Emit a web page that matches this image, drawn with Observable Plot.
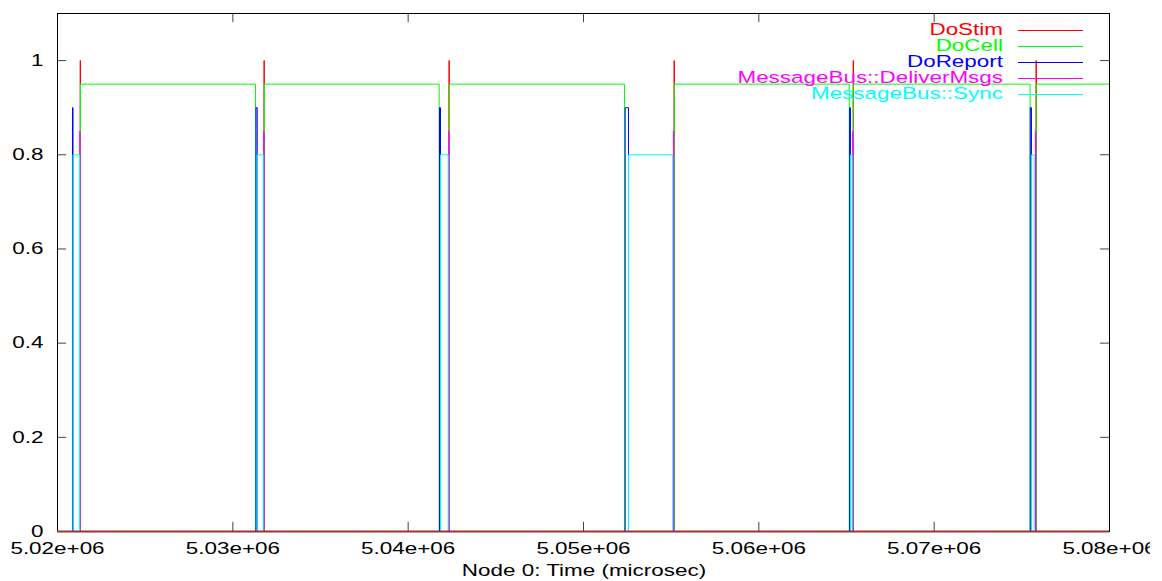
<!DOCTYPE html>
<html><head><meta charset="utf-8">
<script src="https://cdn.jsdelivr.net/npm/d3@7"></script>
<script src="https://cdn.jsdelivr.net/npm/@observablehq/plot@0.6"></script>
<style>
html,body{margin:0;padding:0;background:#fff;}
#chart{width:1150px;height:581px;overflow:hidden;}
#chart svg{max-width:none !important;width:1162px;height:581px;}
</style></head><body><div id="chart"></div>
<script>
// ---- data ----
const seriesNames = ["DoStim", "DoCell", "DoReport", "MessageBus::DeliverMsgs", "MessageBus::Sync"];
const seriesLevels = [1, 0.95, 0.9, 0.85, 0.8];
const seriesColors = ["#ff0000", "#00ff00", "#0000ff", "#ff00ff", "#00ffff"];
const timeRange = [5020000, 5080000];

const doStimOn      = [5021292, 5031777, 5042327, 5055165, 5065379, 5075810];
const doStimOff     = [5021312, 5031797, 5042347, 5055185, 5065399, 5075830];
const doCellOn      = [5021312, 5031805, 5042356, 5055180, 5065385, 5075820];
const doCellOff     = [5031292, 5041768, 5052336, 5065157, 5075473];
const doReportOn    = [5020855, 5031321, 5041786, 5052376, 5065180, 5075480];
const doReportOff   = [5020884, 5031390, 5041843, 5052564, 5065225, 5075548];
const deliverMsgsOn = [5021270, 5031765, 5042316, 5055130, 5065356, 5075776];
const deliverMsgsOff= [5021290, 5031785, 5042336, 5055150, 5065376, 5075796];
const syncOn        = [5020884, 5031390, 5041843, 5052564, 5065225, 5075548];
const syncOff       = [5021255, 5031732, 5042282, 5055090, 5065322, 5075702];

const xTicks = [5020000, 5030000, 5040000, 5050000, 5060000, 5070000, 5080000];
const yTicks = [0, 0.2, 0.4, 0.6, 0.8, 1];
const xLabel = "Node 0: Time (microsec)";

// ---- build step series ----
function buildSteps(name, level, ons, offs) {
  const ev = [];
  ons.forEach(t => ev.push({t, v: level}));
  offs.forEach(t => ev.push({t, v: 0}));
  ev.sort((a, b) => a.t - b.t);
  const pts = [{name, t: timeRange[0], v: 0}];
  ev.forEach(e => pts.push({name, t: e.t, v: e.v}));
  pts.push({name, t: timeRange[1], v: pts[pts.length - 1].v});
  return pts;
}
const allOns = [doStimOn, doCellOn, doReportOn, deliverMsgsOn, syncOn];
const allOffs = [doStimOff, doCellOff, doReportOff, deliverMsgsOff, syncOff];
const series = seriesNames.map((n, i) => buildSteps(n, seriesLevels[i], allOns[i], allOffs[i]));

const fmtX = d => d.toExponential(2).replace(/e([+-])(\d)$/, "e$10$2");
const fmtY = d => String(+d.toFixed(1));

const W = 1162, H = 581;
const tickLenY = 0.0195, tickLenX = 520;
const FONT = "'Liberation Sans', Arial, sans-serif";

const marks = [];
marks.push(
  Plot.ruleX(xTicks, {x: d => d, y1: 0, y2: tickLenY, stroke: "#444"}),
  Plot.ruleX(xTicks, {x: d => d, y1: 1.1 - tickLenY, y2: 1.1, stroke: "#444"}),
  Plot.ruleY(yTicks, {y: d => d, x1: timeRange[0], x2: timeRange[0] + tickLenX, stroke: "#444"}),
  Plot.ruleY(yTicks, {y: d => d, x1: timeRange[1] - tickLenX, x2: timeRange[1], stroke: "#444"}),
  Plot.frame({stroke: "black"})
);
series.forEach((s, i) => {
  marks.push(Plot.line(s, {x: "t", y: "v", curve: "step-after", stroke: seriesColors[i], strokeWidth: 1}));
});
marks.push(
  Plot.ruleY([0], {stroke: "#a0302c", strokeWidth: 2, clip: false}),
  Plot.axisX(xTicks, {tickSize: 0, tickPadding: 11, tickFormat: fmtX, label: null, fill: "black"}),
  Plot.axisY(yTicks, {tickSize: 0, tickPadding: 14, tickFormat: fmtY, label: null, fill: "black"})
);

const chart = Plot.plot({
  width: W, height: H,
  marginLeft: 57, marginRight: 53, marginTop: 13, marginBottom: 50,
  x: {domain: timeRange},
  y: {domain: [0, 1.1]},
  clip: true,
  style: {fontFamily: FONT, fontSize: "16.5px", background: "white", color: "black", maxWidth: "none"},
  marks
});
document.getElementById("chart").appendChild(chart);

// legend & axis title
const svg = d3.select(chart);
const lg = svg.append("g").attr("font-family", FONT).attr("font-size", "16.5px");
seriesNames.forEach((n, i) => {
  const base = 34.7 + 16 * i;
  lg.append("text").attr("x", 1003).attr("y", base).attr("text-anchor", "end")
    .attr("fill", seriesColors[i]).style("fill", seriesColors[i]).text(n);
  const ly = Math.round(base - 5.2) + 0.5;
  lg.append("path").attr("d", `M1018,${ly}H1083`)
    .attr("fill", "none").style("fill", "none")
    .attr("stroke", seriesColors[i]).style("stroke", seriesColors[i]).style("stroke-width", "1px");
});
svg.append("text").attr("x", 584).attr("y", 576).attr("text-anchor", "middle")
  .attr("font-family", FONT).attr("font-size", "16.5px").attr("fill", "black").text(xLabel);

// horizontal stretch of the glyphs (reference text is wide)
const SX = 1.36;
svg.selectAll("text").each(function() {
  const el = this;
  const tr = el.getAttribute("transform");
  if (tr) {
    el.setAttribute("transform", tr + ` scale(${SX},1)`);
  } else {
    const x = +el.getAttribute("x") || 0, y = +el.getAttribute("y") || 0;
    el.setAttribute("transform", `translate(${x},${y}) scale(${SX},1) translate(${-x},${-y})`);
  }
});
</script></body></html>
